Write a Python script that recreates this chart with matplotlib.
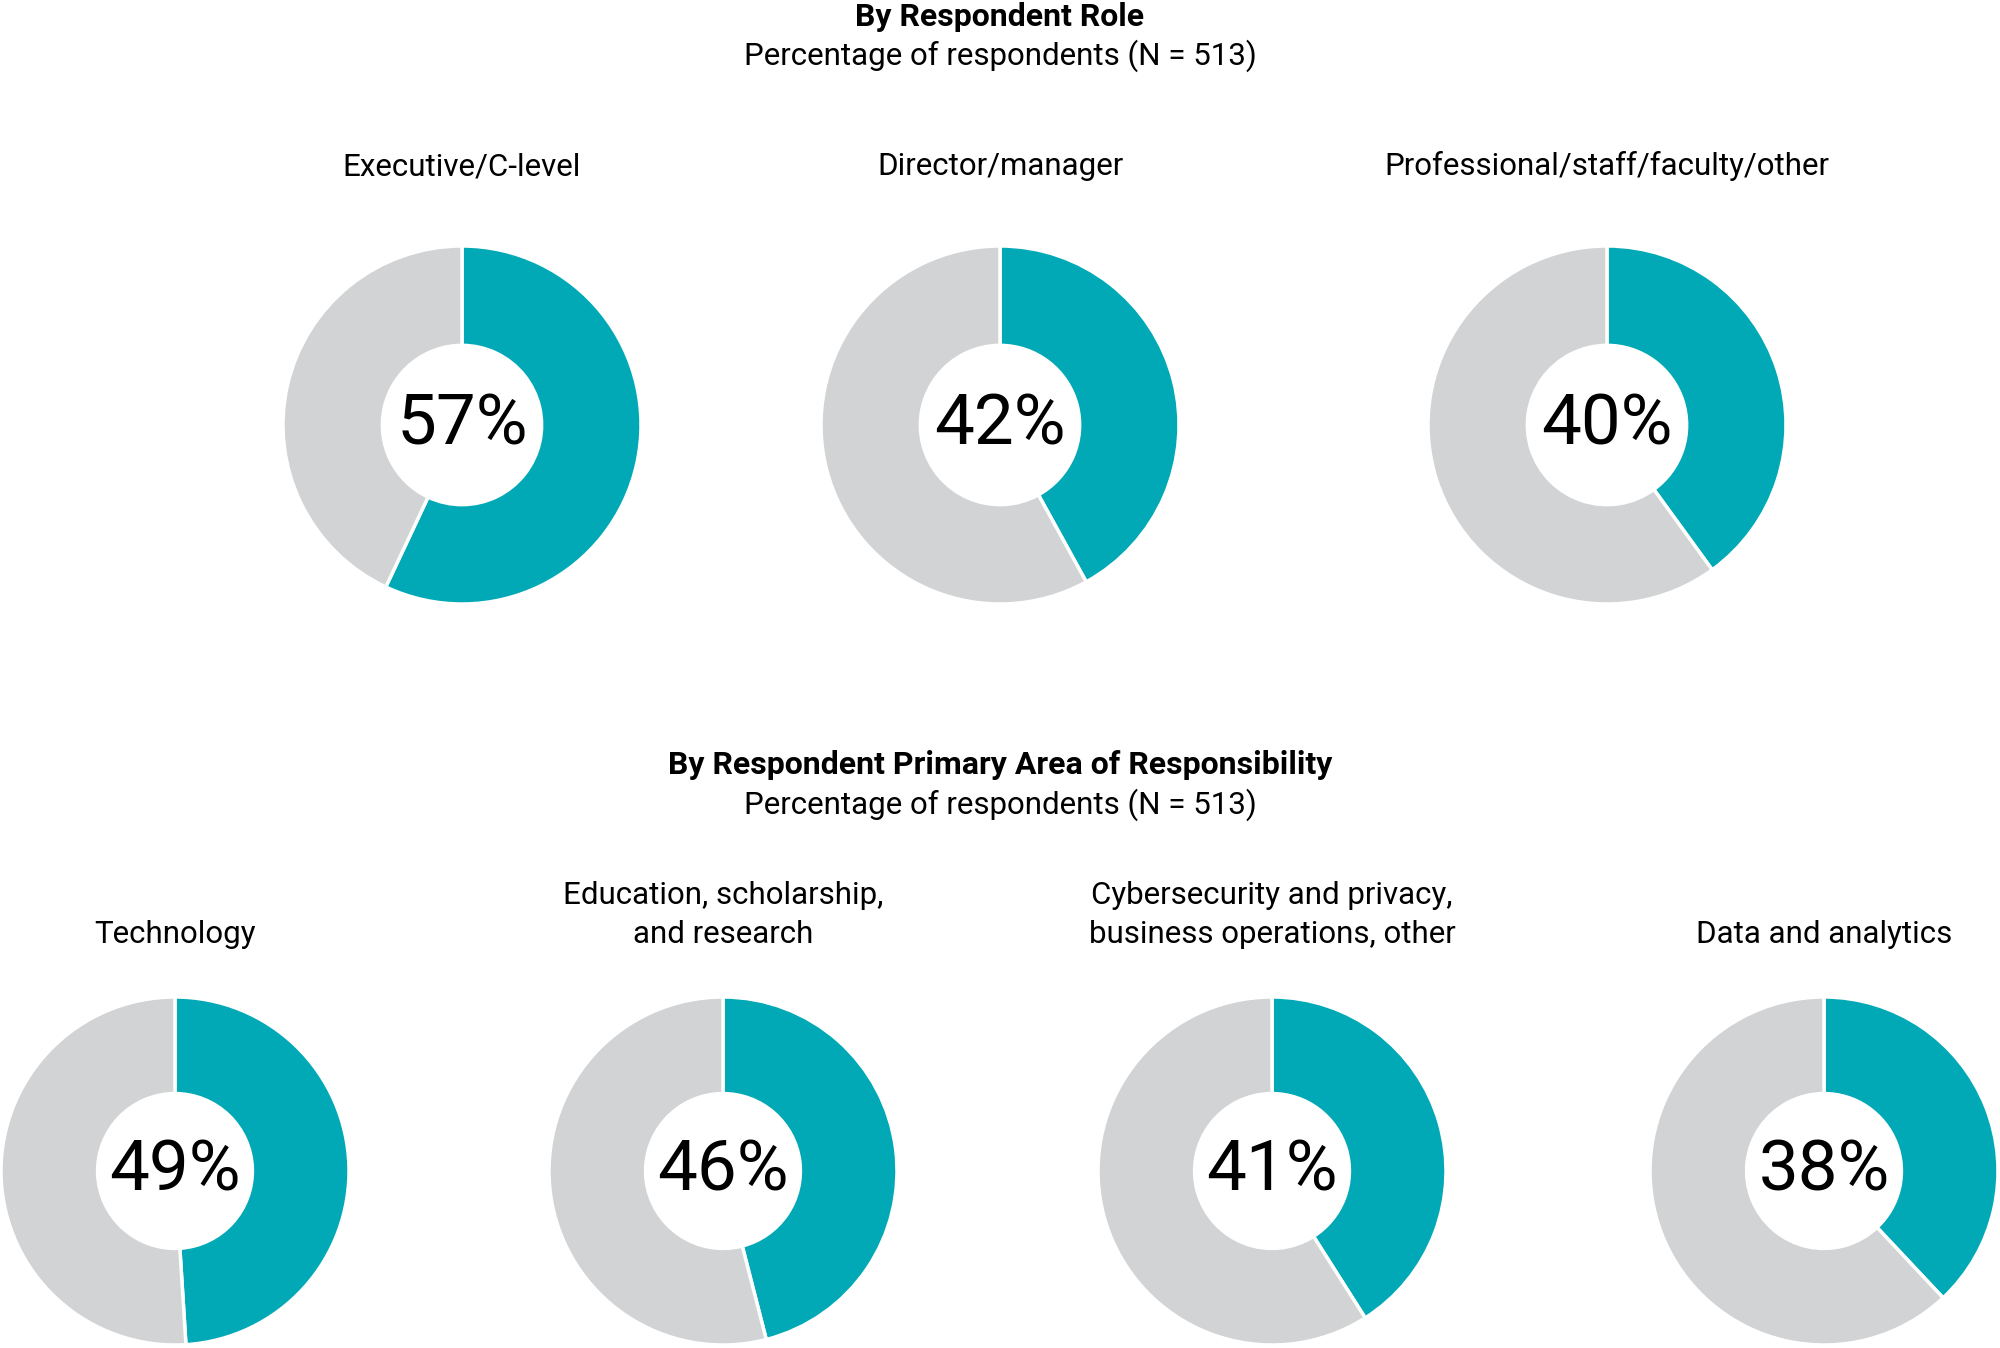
import matplotlib
matplotlib.use("Agg")
import matplotlib.pyplot as plt

plt.rcParams['font.family'] = ['Roboto', 'DejaVu Sans']

# data
role_labels = ["Executive/C-level", "Director/manager", "Professional/staff/faculty/other"]
role_values = [57, 42, 40]
area_labels = ["Technology", "Education, scholarship,\nand research",
               "Cybersecurity and privacy,\nbusiness operations, other", "Data and analytics"]
area_values = [49, 46, 41, 38]

title_top = "By Respondent Role"
title_bottom = "By Respondent Primary Area of Responsibility"
subtitle = "Percentage of respondents (N = 513)"

teal = "#00A9B5"
grey = "#D1D3D4"

W, H = 2000, 1348
fig = plt.figure(figsize=(20, 13.48), dpi=100)
ax = fig.add_axes([0, 0, 1, 1])

def donut(cx, cy, r, val, label_y, label):
    ax.pie([val, 100 - val], colors=[teal, grey], startangle=90, counterclock=False,
           center=(cx, H - cy), radius=r,
           wedgeprops=dict(width=r * 0.555, edgecolor="white", linewidth=2.5))
    ax.text(cx, H - cy, f"{val}%", ha="center", va="center", fontsize=51, color="black")
    ax.text(cx, H - label_y, label, ha="center", va="bottom", fontsize=22.5,
            color="black", linespacing=1.45)

top_x = [462, 1000, 1607]
for x, v, lab in zip(top_x, role_values, role_labels):
    donut(x, 425, 179, v, 181, lab)

bot_x = [175, 723, 1272, 1824]
for x, v, lab in zip(bot_x, area_values, area_labels):
    donut(x, 1171, 174, v, 949, lab)

ax.text(1000, H - 17, title_top, ha="center", va="center", fontsize=23, fontweight="bold")
ax.text(1000, H - 56, subtitle, ha="center", va="center", fontsize=22.5)
ax.text(1000, H - 765, title_bottom, ha="center", va="center", fontsize=23, fontweight="bold")
ax.text(1000, H - 805, subtitle, ha="center", va="center", fontsize=22.5)

ax.set_xlim(0, W)
ax.set_ylim(0, H)
ax.set_aspect("equal")
ax.axis("off")

fig.savefig("out.png", dpi=100, facecolor="white")
